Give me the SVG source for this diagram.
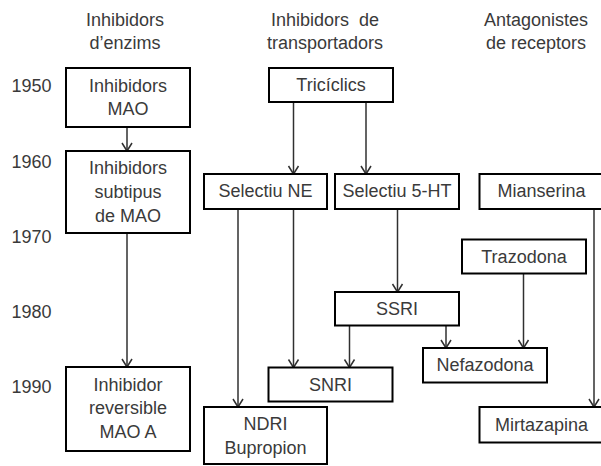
<svg xmlns="http://www.w3.org/2000/svg" width="601" height="466" viewBox="0 0 601 466">
<defs>
<marker id="arr" viewBox="-10 -6 11 12" markerWidth="11" markerHeight="12" refX="0" refY="0" orient="auto" markerUnits="userSpaceOnUse" overflow="visible">
<path d="M -8 -5 L 0 0 L -8 5" fill="none" stroke="#303030" stroke-width="1.5"/>
</marker>
</defs>
<style>
text { font-family: "Liberation Sans", Arial, sans-serif; font-size: 18px; fill: #3a3a3a; text-anchor: middle; }
.yr { text-anchor: middle; }
rect { fill: #ffffff; stroke: #000000; stroke-width: 2; }
#connectors path { fill: none; stroke: #303030; stroke-width: 1.5; marker-end: url(#arr); }
</style>
<rect x="0" y="0" width="601" height="466" style="fill:#ffffff;stroke:none"/>
<g id="headers">
<text x="125" y="26">Inhibidors</text>
<text x="125" y="49">d’enzims</text>
<text x="325" y="26" xml:space="preserve" style="white-space:pre">Inhibidors  de</text>
<text x="325" y="49">transportadors</text>
<text x="536" y="26">Antagonistes</text>
<text x="536" y="49">de receptors</text>
</g>
<g id="years">
<text class="yr" x="31.5" y="92">1950</text>
<text class="yr" x="31.5" y="168">1960</text>
<text class="yr" x="31.5" y="243">1970</text>
<text class="yr" x="31.5" y="318">1980</text>
<text class="yr" x="31.5" y="393">1990</text>
</g>
<g id="connectors">
<path d="M127 127 V151"/>
<path d="M127 233 V367"/>
<path d="M293.5 102 V174"/>
<path d="M366 102 V174"/>
<path d="M397.5 209 V292"/>
<path d="M238 209 V407"/>
<path d="M293.5 209 V367.5"/>
<path d="M349.5 325.5 V367.5"/>
<path d="M446 325.5 V348"/>
<path d="M523.5 274 V348"/>
<path d="M594 209 V407"/>
</g>
<g id="n_mao">
<rect x="66" y="68" width="124" height="59"/>
<text x="128" y="92">Inhibidors</text>
<text x="128" y="115">MAO</text>
</g>
<g id="n_subtipus">
<rect x="66" y="151" width="124" height="82"/>
<text x="128" y="173.5">Inhibidors</text>
<text x="128" y="197.5">subtipus</text>
<text x="128" y="221.5">de MAO</text>
</g>
<g id="n_reversible">
<rect x="66" y="367" width="124" height="84"/>
<text x="128" y="391">Inhibidor</text>
<text x="128" y="414">reversible</text>
<text x="128" y="438">MAO A</text>
</g>
<g id="n_triciclics">
<rect x="269" y="68" width="124" height="34"/>
<text x="331" y="91">Tricíclics</text>
</g>
<g id="n_selne">
<rect x="204" y="174" width="123" height="35"/>
<text x="265.5" y="197">Selectiu NE</text>
</g>
<g id="n_sel5ht">
<rect x="335" y="174" width="124" height="35"/>
<text x="397" y="197">Selectiu 5-HT</text>
</g>
<g id="n_mianserina">
<rect x="479.5" y="174" width="130" height="35"/>
<text x="541.5" y="197">Mianserina</text>
</g>
<g id="n_trazodona">
<rect x="462" y="239.5" width="124" height="34"/>
<text x="524" y="263">Trazodona</text>
</g>
<g id="n_ssri">
<rect x="335" y="292" width="124" height="33.5"/>
<text x="397" y="314.5">SSRI</text>
</g>
<g id="n_nefazodona">
<rect x="423" y="348" width="124" height="34.5"/>
<text x="485" y="371">Nefazodona</text>
</g>
<g id="n_snri">
<rect x="268.5" y="367.5" width="124" height="34"/>
<text x="330.5" y="391">SNRI</text>
</g>
<g id="n_ndri">
<rect x="204" y="407" width="123" height="57"/>
<text x="265.5" y="430">NDRI</text>
<text x="265.5" y="454">Bupropion</text>
</g>
<g id="n_mirtazapina">
<rect x="479.5" y="407" width="130" height="35.5"/>
<text x="541.5" y="431">Mirtazapina</text>
</g>
</svg>
